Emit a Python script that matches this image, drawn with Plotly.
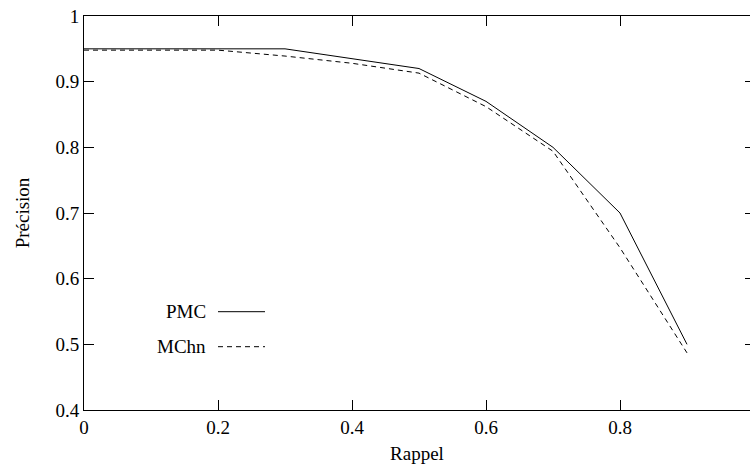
import plotly.graph_objects as go

recall = [0.0, 0.1, 0.2, 0.3, 0.4, 0.5, 0.6, 0.7, 0.8, 0.9]
pmc = [0.950, 0.950, 0.950, 0.950, 0.935, 0.920, 0.870, 0.800, 0.700, 0.500]
mchn = [0.948, 0.948, 0.948, 0.939, 0.928, 0.913, 0.862, 0.794, 0.647, 0.487]
series_names = ["PMC", "MChn"]
x_ticks = [0, 0.2, 0.4, 0.6, 0.8]
y_ticks = [0.4, 0.5, 0.6, 0.7, 0.8, 0.9, 1.0]

FONT = "Liberation Serif"
FS = 19

fig = go.Figure()
fig.add_trace(go.Scatter(x=recall, y=pmc, mode="lines", name=series_names[0],
                         line=dict(color="black", width=1)))
fig.add_trace(go.Scatter(x=recall, y=mchn, mode="lines", name=series_names[1],
                         line=dict(color="black", width=1, dash="5px,4px")))
fig.add_trace(go.Scatter(x=[None], y=[None], yaxis="y2", showlegend=False))

W, H = 750, 466
L, R, T, B = 84, 0, 16, 56
px_per_unit = 670.0
xmax = (W - L - R) / px_per_unit

fig.update_layout(
    width=W, height=H, autosize=False,
    margin=dict(l=L, r=R, t=T, b=B),
    paper_bgcolor="white", plot_bgcolor="white",
    showlegend=False,
    font=dict(family=FONT, size=FS, color="black"),
    xaxis=dict(range=[0, xmax], tickvals=x_ticks, ticktext=[f"{v:g}" for v in x_ticks],
               ticks="inside", ticklen=10, tickcolor="black", tickwidth=1,
               showline=True, linecolor="black", linewidth=1, mirror="ticks",
               showgrid=False, zeroline=False, automargin=False,
               title=dict(text="Rappel", standoff=9, font=dict(family=FONT, size=FS)),
               tickfont=dict(family=FONT, size=FS)),
    yaxis=dict(range=[0.4, 1.0], tickvals=y_ticks, ticktext=[f"{v:g}" for v in y_ticks],
               ticks="inside", ticklen=10, tickcolor="black", tickwidth=1,
               showline=True, linecolor="black", linewidth=1, mirror=False,
               showgrid=False, zeroline=False, automargin=False,
               title=dict(text="Précision", standoff=20, font=dict(family=FONT, size=FS)),
               tickfont=dict(family=FONT, size=FS)),
    yaxis2=dict(range=[0.4, 1.0], tickvals=y_ticks, overlaying="y", side="right",
                ticks="inside", ticklen=5, tickcolor="black", tickwidth=1,
                showticklabels=False, showline=False, showgrid=False, zeroline=False,
                automargin=False),
)

legend_rows = [(series_names[0], 311.7, "solid"), (series_names[1], 346.7, "5px,4px")]
for name, ypx, dash in legend_rows:
    yp = 1 - (ypx - T) / (H - T - B)
    x0 = (218 - L) / (W - L - R)
    x1 = (265 - L) / (W - L - R)
    xt = (208 - L) / (W - L - R)
    fig.add_annotation(x=xt, y=yp, xref="paper", yref="paper", text=name,
                       showarrow=False, xanchor="right", yanchor="middle",
                       font=dict(family=FONT, size=FS, color="black"))
    fig.add_shape(type="line", x0=x0, x1=x1, y0=yp, y1=yp, xref="paper", yref="paper",
                  line=dict(color="black", width=1, dash=dash))

post = ("document.body.style.margin='0';document.body.style.overflow='hidden';"
        "var gd=document.getElementById('{plot_id}');"
        "Plotly.relayout(gd,{width:%d,height:%d});" % (W, H))
fig.write_html("out.html", post_script=post,
               config={"responsive": False, "displayModeBar": False})
